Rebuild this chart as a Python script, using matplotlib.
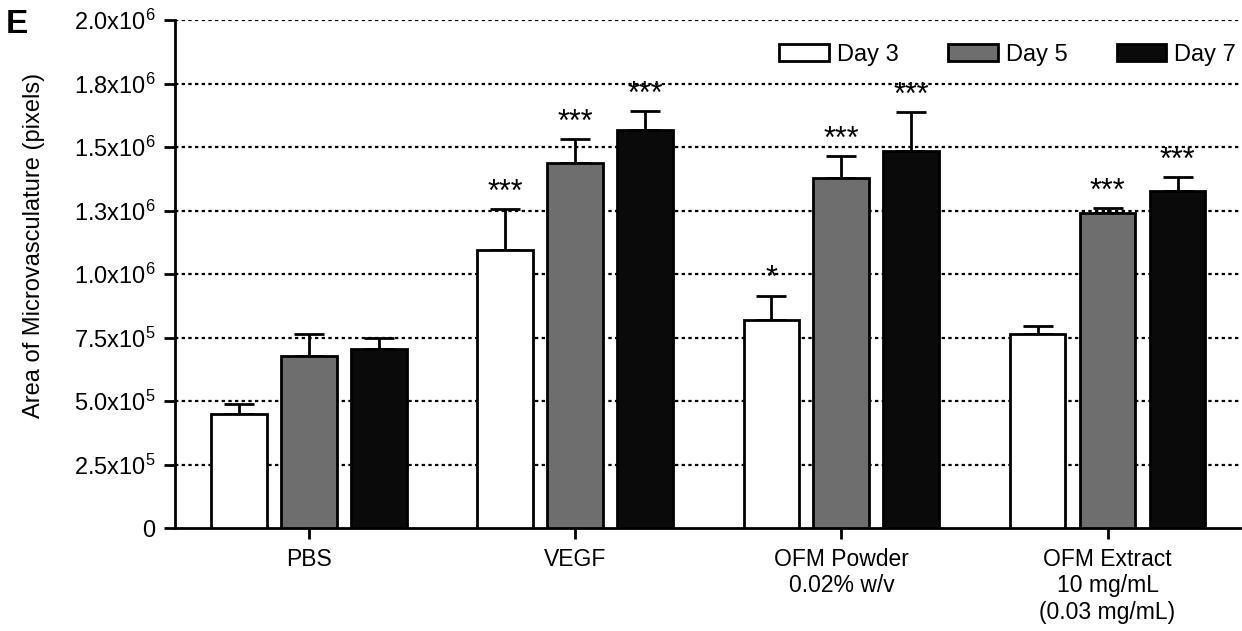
import numpy as np
import matplotlib
matplotlib.use("Agg")
import matplotlib.pyplot as plt

plt.rcParams['font.family'] = ['Liberation Sans', 'DejaVu Sans']
plt.rcParams['mathtext.default'] = 'regular'

# microvasculature area per treatment and day
groups = ['PBS', 'VEGF', 'OFM Powder\n0.02% w/v', 'OFM Extract\n10 mg/mL\n(0.03 mg/mL)']
days = ['Day 3', 'Day 5', 'Day 7']
day3 = [4.49e5, 1.097e6, 8.18e5, 7.64e5]
day5 = [6.77e5, 1.436e6, 1.379e6, 1.241e6]
day7 = [7.07e5, 1.567e6, 1.485e6, 1.327e6]
day3_err = [0.38e5, 1.59e5, 0.98e5, 0.31e5]
day5_err = [0.87e5, 0.95e5, 0.87e5, 0.18e5]
day7_err = [0.42e5, 0.75e5, 1.52e5, 0.55e5]
day3_sig = ['', '***', '*', '']
day5_sig = ['', '***', '***', '***']
day7_sig = ['', '***', '***', '***']

yticks = [0, 2.5e5, 5.0e5, 7.5e5, 1.0e6, 1.25e6, 1.5e6, 1.75e6, 2.0e6]
ytick_labels = ['0', '2.5x10$^5$', '5.0x10$^5$', '7.5x10$^5$', '1.0x10$^6$',
                '1.3x10$^6$', '1.5x10$^6$', '1.8x10$^6$', '2.0x10$^6$']

fig = plt.figure(figsize=(12.42, 6.31), dpi=100)
ax = fig.add_axes([0.141, 0.163, 0.857, 0.805])

x = np.arange(len(groups))
width = 0.21
step = 0.263
colors = ['white', '#6e6e6e', '#0a0a0a']
series = [(day3, day3_err, day3_sig), (day5, day5_err, day5_sig), (day7, day7_err, day7_sig)]

for i, (vals, errs, sig) in enumerate(series):
    pos = x + (i - 1) * step
    ax.bar(pos, vals, width, color=colors[i], edgecolor='black', linewidth=2,
           label=days[i], zorder=3)
    ax.errorbar(pos, vals, yerr=[np.zeros(len(vals)), errs], fmt='none',
                ecolor='black', elinewidth=2, capsize=10.5, capthick=2, zorder=2)
    for p, v, e, s in zip(pos, vals, errs, sig):
        if s:
            ax.annotate(s, (p, v + e), xytext=(0, 1), textcoords='offset points',
                        ha='center', va='bottom', fontsize=22)

ax.set_ylim(0, 2.0e6)
ax.set_xlim(-0.504, 3.496)
ax.set_yticks(yticks)
ax.set_yticklabels(ytick_labels, fontsize=17)
ax.set_xticks(x)
ax.set_xticklabels(groups, fontsize=16.5, linespacing=1.2)

for y in yticks[1:]:
    ax.axhline(y, color='black', linestyle=(0, (1.5, 1.5)), linewidth=1.6, zorder=1)

for side in ['top', 'right']:
    ax.spines[side].set_visible(False)
ax.spines['left'].set_linewidth(2)
ax.spines['bottom'].set_linewidth(2)
ax.tick_params(axis='both', direction='out', length=8, width=2, pad=6)

ax.set_ylabel('Area of Microvasculature (pixels)', fontsize=17)
ax.yaxis.set_label_coords(-0.122, 0.557)

ax.legend(loc='upper right', ncol=3, frameon=False, fontsize=17,
          handlelength=2.1, handleheight=0.7, columnspacing=2.1,
          handletextpad=0.34, bbox_to_anchor=(1.017, 0.995))

fig.text(0.005, 0.948, 'E', fontsize=24, fontweight='bold', va='baseline')

fig.savefig('out.png', dpi=100)
